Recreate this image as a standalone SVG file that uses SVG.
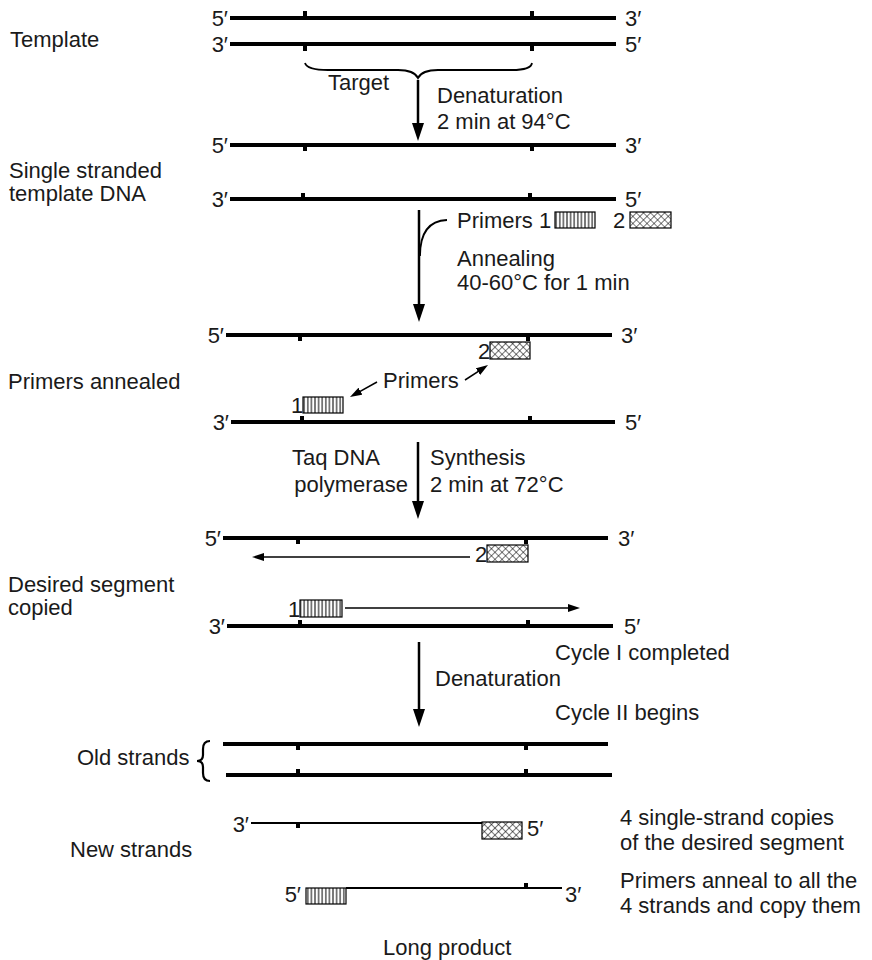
<svg xmlns="http://www.w3.org/2000/svg" width="872" height="960" viewBox="0 0 872 960">
<style>
text{font-family:"Liberation Sans",Arial,sans-serif;font-size:22px;fill:#1a1a1a}
.s{stroke:#000;stroke-width:4;fill:none}
.n{stroke:#000;stroke-width:2;fill:none}
.t{fill:#000}
.a{stroke:#000;stroke-width:2.5;fill:none}
.sa{stroke:#000;stroke-width:1.5;fill:none}
.br{stroke:#000;stroke-width:1.8;fill:none}
.p1{fill:url(#vert);stroke:#000;stroke-width:1.2}
.p2{fill:url(#cross);stroke:#000;stroke-width:1.2}
</style>
<defs>
<pattern id="vert" patternUnits="userSpaceOnUse" width="3.6" height="10"><rect width="3.6" height="10" fill="#fff"/><path d="M1.8,0V10" stroke="#000" stroke-width="1"/></pattern>
<pattern id="cross" patternUnits="userSpaceOnUse" width="5" height="5" patternTransform="rotate(45)"><rect width="5" height="5" fill="#fff"/><path d="M0,0V5M0,0H5" stroke="#000" stroke-width="1.1"/></pattern>
<marker id="big" markerUnits="userSpaceOnUse" markerWidth="18" markerHeight="12" refX="10" refY="6" orient="auto"><path d="M0,0L18,6L0,12z" fill="#000"/></marker>
<marker id="sm" markerUnits="userSpaceOnUse" markerWidth="12" markerHeight="8" refX="6" refY="4" orient="auto"><path d="M0,0L12,4L0,8z" fill="#000"/></marker>
</defs>

<g id="labels">
<text x="10" y="47">Template</text>
<text x="9" y="178">Single stranded</text>
<text x="9" y="201">template DNA</text>
<text x="8" y="389">Primers annealed</text>
<text x="8" y="592">Desired segment</text>
<text x="8" y="615">copied</text>
<text x="77" y="765">Old strands</text>
<text x="70" y="857">New strands</text>
<text x="383" y="955">Long product</text>
</g>

<g id="template">
<line class="s" x1="230" y1="18" x2="616" y2="18"/>
<rect class="t" x="303" y="11" width="4" height="7"/><rect class="t" x="530" y="11" width="4" height="7"/>
<text x="228" y="26" text-anchor="end">5′</text><text x="625" y="26">3′</text>
<line class="s" x1="230" y1="44" x2="616" y2="44"/>
<rect class="t" x="303" y="44" width="4" height="7"/><rect class="t" x="530" y="44" width="4" height="7"/>
<text x="228" y="52" text-anchor="end">3′</text><text x="625" y="52">5′</text>
</g>

<g id="target">
<path class="br" d="M305,63Q307,70 328,70L398,70Q414,70 418,78Q422,70 438,70L512,70Q531,70 532,63"/>
<text x="328" y="90">Target</text>
</g>

<g id="single-stranded">
<line class="s" x1="230" y1="145" x2="616" y2="145"/>
<rect class="t" x="303" y="145" width="4" height="6"/><rect class="t" x="530" y="145" width="4" height="6"/>
<text x="228" y="153" text-anchor="end">5′</text><text x="625" y="153">3′</text>
<line class="s" x1="230" y1="199" x2="616" y2="199"/>
<rect class="t" x="301" y="193" width="4" height="6"/><rect class="t" x="528" y="193" width="4" height="6"/>
<text x="228" y="207" text-anchor="end">3′</text><text x="625" y="207">5′</text>
</g>

<g id="primers-legend">
<text x="457" y="228">Primers 1</text>
<rect class="p1" x="555" y="212" width="40" height="16"/>
<text x="613" y="228">2</text>
<rect class="p2" x="630" y="212" width="41" height="16"/>
</g>

<g id="primers-annealed">
<line class="s" x1="226" y1="335" x2="612" y2="335"/>
<rect class="t" x="298" y="335" width="4" height="6"/><rect class="t" x="526" y="335" width="4" height="6"/>
<text x="224" y="343" text-anchor="end">5′</text><text x="621" y="343">3′</text>
<text x="478" y="359">2</text>
<rect class="p2" x="490" y="342" width="40" height="17"/>
<text x="383" y="388">Primers</text>
<text x="291" y="413">1</text>
<rect class="p1" x="303" y="397" width="40" height="16"/>
<line class="s" x1="231" y1="422" x2="615" y2="422"/>
<rect class="t" x="300" y="416" width="4" height="6"/><rect class="t" x="528" y="416" width="4" height="6"/>
<text x="229" y="430" text-anchor="end">3′</text><text x="625" y="430">5′</text>
</g>

<g id="desired-segment">
<line class="s" x1="223" y1="538" x2="608" y2="538"/>
<rect class="t" x="296" y="538" width="4" height="6"/><rect class="t" x="524" y="538" width="4" height="6"/>
<text x="221" y="546" text-anchor="end">5′</text><text x="618" y="546">3′</text>
<text x="475" y="562">2</text>
<rect class="p2" x="487" y="545" width="41" height="17"/>
<text x="288" y="617">1</text>
<rect class="p1" x="300" y="600" width="42" height="17"/>
<line class="s" x1="227" y1="626" x2="613" y2="626"/>
<rect class="t" x="298" y="620" width="4" height="6"/><rect class="t" x="526" y="620" width="4" height="6"/>
<text x="225" y="634" text-anchor="end">3′</text><text x="624" y="634">5′</text>
</g>

<g id="old-strands">
<path class="br" style="stroke-width:2.2" d="M210,741Q203,741 203,749L203,755Q203,761 197,761Q203,761 203,767L203,773Q203,781 210,781"/>
<line class="s" x1="223" y1="744" x2="608" y2="744"/>
<rect class="t" x="296" y="744" width="4" height="6"/><rect class="t" x="524" y="744" width="4" height="6"/>
<line class="s" x1="226" y1="775" x2="612" y2="775"/>
<rect class="t" x="296" y="769" width="4" height="6"/><rect class="t" x="524" y="769" width="4" height="6"/>
</g>

<g id="new-strands">
<text x="249" y="832" text-anchor="end">3′</text>
<line class="n" x1="251" y1="823" x2="482" y2="823"/>
<rect class="t" x="296" y="823" width="4" height="5"/>
<rect class="p2" x="482" y="822" width="40" height="17"/>
<text x="527" y="836">5′</text>
<text x="301" y="902" text-anchor="end">5′</text>
<rect class="p1" x="306" y="888" width="40" height="16"/>
<line class="n" x1="346" y1="888" x2="562" y2="888"/>
<rect class="t" x="524" y="883" width="4" height="5"/>
<text x="565" y="902">3′</text>
</g>

<g id="notes">
<text x="437" y="103">Denaturation</text>
<text x="437" y="129">2 min at 94°C</text>
<text x="457" y="266">Annealing</text>
<text x="457" y="290">40-60°C for 1 min</text>
<text x="380" y="465" text-anchor="end">Taq DNA</text>
<text x="408" y="492" text-anchor="end">polymerase</text>
<text x="430" y="465">Synthesis</text>
<text x="430" y="492">2 min at 72°C</text>
<text x="555" y="660">Cycle I completed</text>
<text x="435" y="686">Denaturation</text>
<text x="555" y="720">Cycle II begins</text>
<text x="620" y="825">4 single-strand copies</text>
<text x="620" y="850">of the desired segment</text>
<text x="620" y="888">Primers anneal to all the</text>
<text x="620" y="913">4 strands and copy them</text>
</g>

<g id="connectors">
<line class="a" x1="418" y1="80" x2="418" y2="133" marker-end="url(#big)"/>
<line class="a" x1="419" y1="210" x2="419" y2="314" marker-end="url(#big)"/>
<path class="br" d="M420,256Q420,221 447,220"/>
<line class="sa" x1="377" y1="382" x2="355.2" y2="394.1" marker-end="url(#sm)"/>
<line class="sa" x1="465" y1="380" x2="483" y2="368.3" marker-end="url(#sm)"/>
<line class="a" x1="418" y1="442" x2="418" y2="511" marker-end="url(#big)"/>
<line class="sa" x1="470" y1="557" x2="258" y2="557" marker-end="url(#sm)"/>
<line class="sa" x1="345" y1="608" x2="574" y2="608" marker-end="url(#sm)"/>
<line class="a" x1="419" y1="642" x2="419" y2="719" marker-end="url(#big)"/>
</g>
</svg>
